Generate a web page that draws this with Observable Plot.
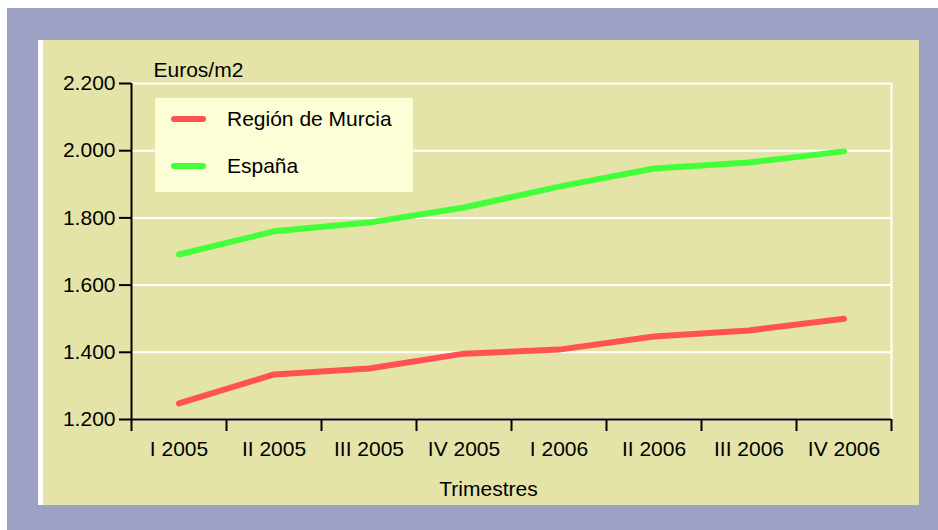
<!DOCTYPE html>
<html><head><meta charset="utf-8">
<script src="https://cdn.jsdelivr.net/npm/d3@7"></script>
<script src="https://cdn.jsdelivr.net/npm/@observablehq/plot@0.6"></script>
<style>
html,body{margin:0;padding:0;background:#fff;}
#wrap{position:relative;width:938px;height:530px;overflow:hidden;font-family:"Liberation Sans",Arial,sans-serif;}
#frame{position:absolute;left:7px;top:8px;width:931px;height:522px;background:#9da2c4;}
#panel{position:absolute;left:38px;top:40px;width:876px;height:465px;background:#e5e4a8;border-left:5px solid #fff;}
#chart{position:absolute;left:0;top:0;}
#legend{position:absolute;left:155px;top:98px;width:258px;height:94px;background:#fdfdd6;font-size:21px;color:#000;}
.li{position:absolute;left:16px;height:24px;display:flex;align-items:center;white-space:nowrap;}
.sw{width:35px;height:6px;border-radius:3px;margin-right:21px;}
</style></head>
<body>
<div id="wrap">
  <div id="frame"></div>
  <div id="panel"></div>
  <div id="chart"></div>
  <div id="legend"></div>
</div>
<script>
const trimestres = ["I 2005","II 2005","III 2005","IV 2005","I 2006","II 2006","III 2006","IV 2006"];
const murcia = [1248,1334,1352,1396,1408,1447,1465,1500];
const espana = [1691,1760,1786,1831,1893,1947,1965,1998];
const seriesNames = ["Región de Murcia","España"];
const seriesColors = ["#ff5252","#42ff3a"];
const yTicks = [1200,1400,1600,1800,2000,2200];

const data = [];
trimestres.forEach((t,i)=>{
  data.push({serie: seriesNames[0], i: i+0.5, v: murcia[i]});
  data.push({serie: seriesNames[1], i: i+0.5, v: espana[i]});
});
const fmt = d3.formatLocale({decimal:",",thousands:".",grouping:[3],currency:["","€"]}).format(",");

const chart = Plot.plot({
  width: 938, height: 530,
  marginLeft: 131, marginRight: 47, marginTop: 83, marginBottom: 111,
  style: {background:"transparent", fontFamily:"Liberation Sans, Arial, sans-serif", fontSize:"21px", color:"#000"},
  x: {type:"linear", domain:[0, trimestres.length], axis:null},
  y: {domain:[1200,2200], axis:null},
  color: {domain: seriesNames, range: seriesColors},
  marks: [
    Plot.gridY(yTicks, {stroke:"#fff", strokeOpacity:1, strokeWidth:2}),
    Plot.ruleX([trimestres.length], {stroke:"#fff", strokeWidth:2}),
    Plot.line(data, {x:"i", y:"v", z:"serie", stroke:"serie", strokeWidth:6, strokeLinecap:"round", strokeLinejoin:"round"}),
    Plot.ruleX([0], {stroke:"#000", strokeWidth:2}),
    Plot.ruleY([1200], {stroke:"#000", strokeWidth:2}),
    Plot.axisY(yTicks, {tickSize:12, tickPadding:4, tickFormat: fmt, stroke:"#000", strokeWidth:2, fill:"#000", fontSize:21, label:null}),
    Plot.axisX(d3.range(trimestres.length+1), {tickSize:12, tickFormat: () => "", stroke:"#000", strokeWidth:2, label:null}),
    Plot.axisX(d3.range(trimestres.length).map(i=>i+0.5), {tickSize:0, tickPadding:22, tickFormat: d => trimestres[Math.round(d-0.5)], fill:"#000", fontSize:21, label:null}),
    Plot.text(["Euros/m2"], {frameAnchor:"top-left", lineAnchor:"middle", dx:22, dy:-13, textAnchor:"start", fontSize:21, fill:"#000"}),
    Plot.text(["Trimestres"], {frameAnchor:"bottom", lineAnchor:"middle", dx:-23, dy:70, fontSize:21, fill:"#000"})
  ]
});
document.getElementById("chart").appendChild(chart);

const lg = document.getElementById("legend");
seriesNames.forEach((n,k)=>{
  const d = document.createElement("div");
  d.className = "li";
  d.style.top = (9 + k*47) + "px";
  d.innerHTML = `<span class="sw" style="background:${seriesColors[k]}"></span><span>${n}</span>`;
  lg.appendChild(d);
});
</script>
</body></html>
